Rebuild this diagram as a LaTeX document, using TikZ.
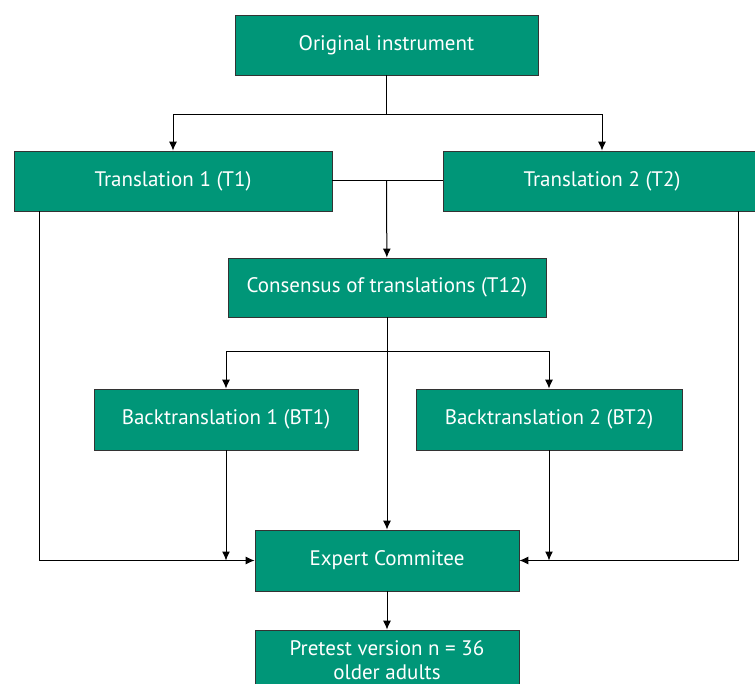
\documentclass[tikz,border=0pt]{standalone}
\usepackage{fontspec}
\setmainfont{PT Sans}
\usetikzlibrary{arrows.meta}
\definecolor{boxgreen}{RGB}{0,150,120}

\begin{document}
\begin{tikzpicture}[x=1pt,y=-1pt,>={Latex[length=9pt,width=8pt]},line width=1pt]
        \useasboundingbox (0,0) rectangle (755,684);

        \begin{scope}[every node/.style={rectangle,draw=black!80,fill=boxgreen,text=white,
            font=\fontsize{21}{24}\selectfont,align=center,inner sep=0pt,line width=0.8pt}]
          \node[minimum width=303pt,minimum height=60pt] (1) at (386.5,45)  {Original instrument};
          \node[minimum width=318pt,minimum height=60pt] (2) at (173,181)   {Translation 1 (T1)};
          \node[minimum width=318pt,minimum height=60pt] (3) at (602,181)   {Translation 2 (T2)};
          \node[minimum width=318pt,minimum height=59pt] (4) at (387,287.5) {Consensus of translations (T12)};
          \node[minimum width=264pt,minimum height=61pt] (5) at (226,419.5) {Backtranslation 1 (BT1)};
          \node[minimum width=266pt,minimum height=61pt] (6) at (549,419.5) {Backtranslation 2 (BT2)};
          \node[minimum width=264pt,minimum height=61pt] (7) at (387,560.5) {Expert Commitee};
          \node[minimum width=264pt,minimum height=60pt] (8) at (387,660)   {Pretest version n = 36\\older adults};
        \end{scope}

        \coordinate (s1) at (386.5,115);
        \coordinate (s2) at (386.5,181);
        \coordinate (s3) at (387,352);

        % translations
        \draw (1) -- (s1);
        \draw[->] (s1) -| (2);
        \draw[->] (s1) -| (3);
        \draw (2) -- (3);
        \draw[->] (s2) -- (4);

        % back translations
        \draw (4) -- (s3);
        \draw[->] (s3) -| (5);
        \draw[->] (s3) -| (6);
        \draw[->] (4) -- (7);

        % into the committee
        \draw[->] ([xshift=26pt]2.south west) |- (7);
        \draw[->] ([xshift=-23pt]3.south east) |- (7);
        \draw[->] (5) -- (5 |- 7);
        \draw[->] (6) -- (6 |- 7);
        \draw[->] (7) -- (8);

      \end{tikzpicture}
\end{document}
